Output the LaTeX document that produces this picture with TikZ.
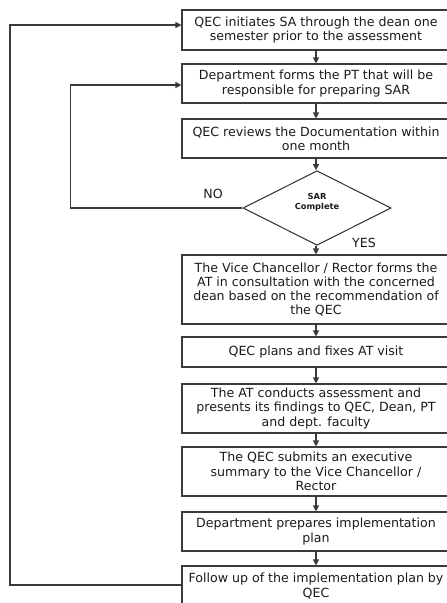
\documentclass[tikz,border=0pt]{standalone}
\usepackage{fontspec}
\setmainfont{DejaVu Sans}
\usetikzlibrary{arrows.meta,shapes.geometric}
\definecolor{linec}{HTML}{3A3A3A}
\definecolor{txtc}{HTML}{1A1A1A}
\begin{document}
\begin{tikzpicture}[x=1pt,y=-1pt,
  box/.style={draw=linec, line width=1.1pt, minimum width=268pt, align=center, inner sep=0pt,
    text=txtc, font=\fontsize{12.6}{14.3}\selectfont},
  dec/.style={draw=linec, line width=1.1pt, diamond, minimum width=148pt, minimum height=69pt,
    inner sep=0pt, align=center, text=txtc, font=\bfseries\fontsize{8.3}{10.5}\selectfont},
  arr/.style={draw=linec, line width=1.2pt, -{Triangle[length=6pt,width=6pt]}},
  lbl/.style={text=txtc, font=\fontsize{12.6}{13}\selectfont}]
\useasboundingbox (0,0) rectangle (447,603);
\node[box, minimum height=40pt] (b1) at (316,30) {QEC initiates SA through the dean one\\semester prior to the assessment};
\node[box, minimum height=39pt] (b2) at (316,83.5) {Department forms the PT that will be\\responsible for preparing SAR};
\node[box, minimum height=39pt] (b3) at (316,138.5) {QEC reviews the Documentation within\\one month};
\node[dec] (d) at (317,208) {SAR\\Complete\\[3pt]};
\node[box, minimum height=69pt] (b4) at (316,289.5) {The Vice Chancellor / Rector forms the\\AT in consultation with the concerned\\dean based on the recommendation of\\the QEC};
\node[box, minimum height=30pt] (b5) at (316,352) {QEC plans and fixes AT visit};
\node[box, minimum height=49pt] (b6) at (316,408.5) {The AT conducts assessment and\\presents its findings to QEC, Dean, PT\\and dept. faculty};
\node[box, minimum height=49pt] (b7) at (316,471.5) {The QEC submits an executive\\summary to the Vice Chancellor /\\Rector};
\node[box, minimum height=39pt] (b8) at (316,531.5) {Department prepares implementation\\plan};
\node[box, minimum height=40pt] (b9) at (316,586) {Follow up of the implementation plan by\\QEC};
\node[lbl] (no) at (213,194) {NO};
\node[lbl] (yes) at (364,243) {YES};
\draw[arr] (b1) -- (b2);
\draw[arr] (b2) -- (b3);
\draw[arr] (b3) -- (b3 |- d.north);
\draw[arr] (b3 |- d.south) -- (b4);
\draw[arr] (b4) -- (b5);
\draw[arr] (b5) -- (b6);
\draw[arr] (b6) -- (b7);
\draw[arr] (b7) -- (b8);
\draw[arr] (b8) -- (b9);
\draw[arr] (d.west) -- ++(-172,0) |- ([yshift=-1.5pt]b2.west);
\draw[arr] (b9.west |- 0,585) -- (10,585) |- ([yshift=5pt]b1.west);
\end{tikzpicture}
\end{document}
